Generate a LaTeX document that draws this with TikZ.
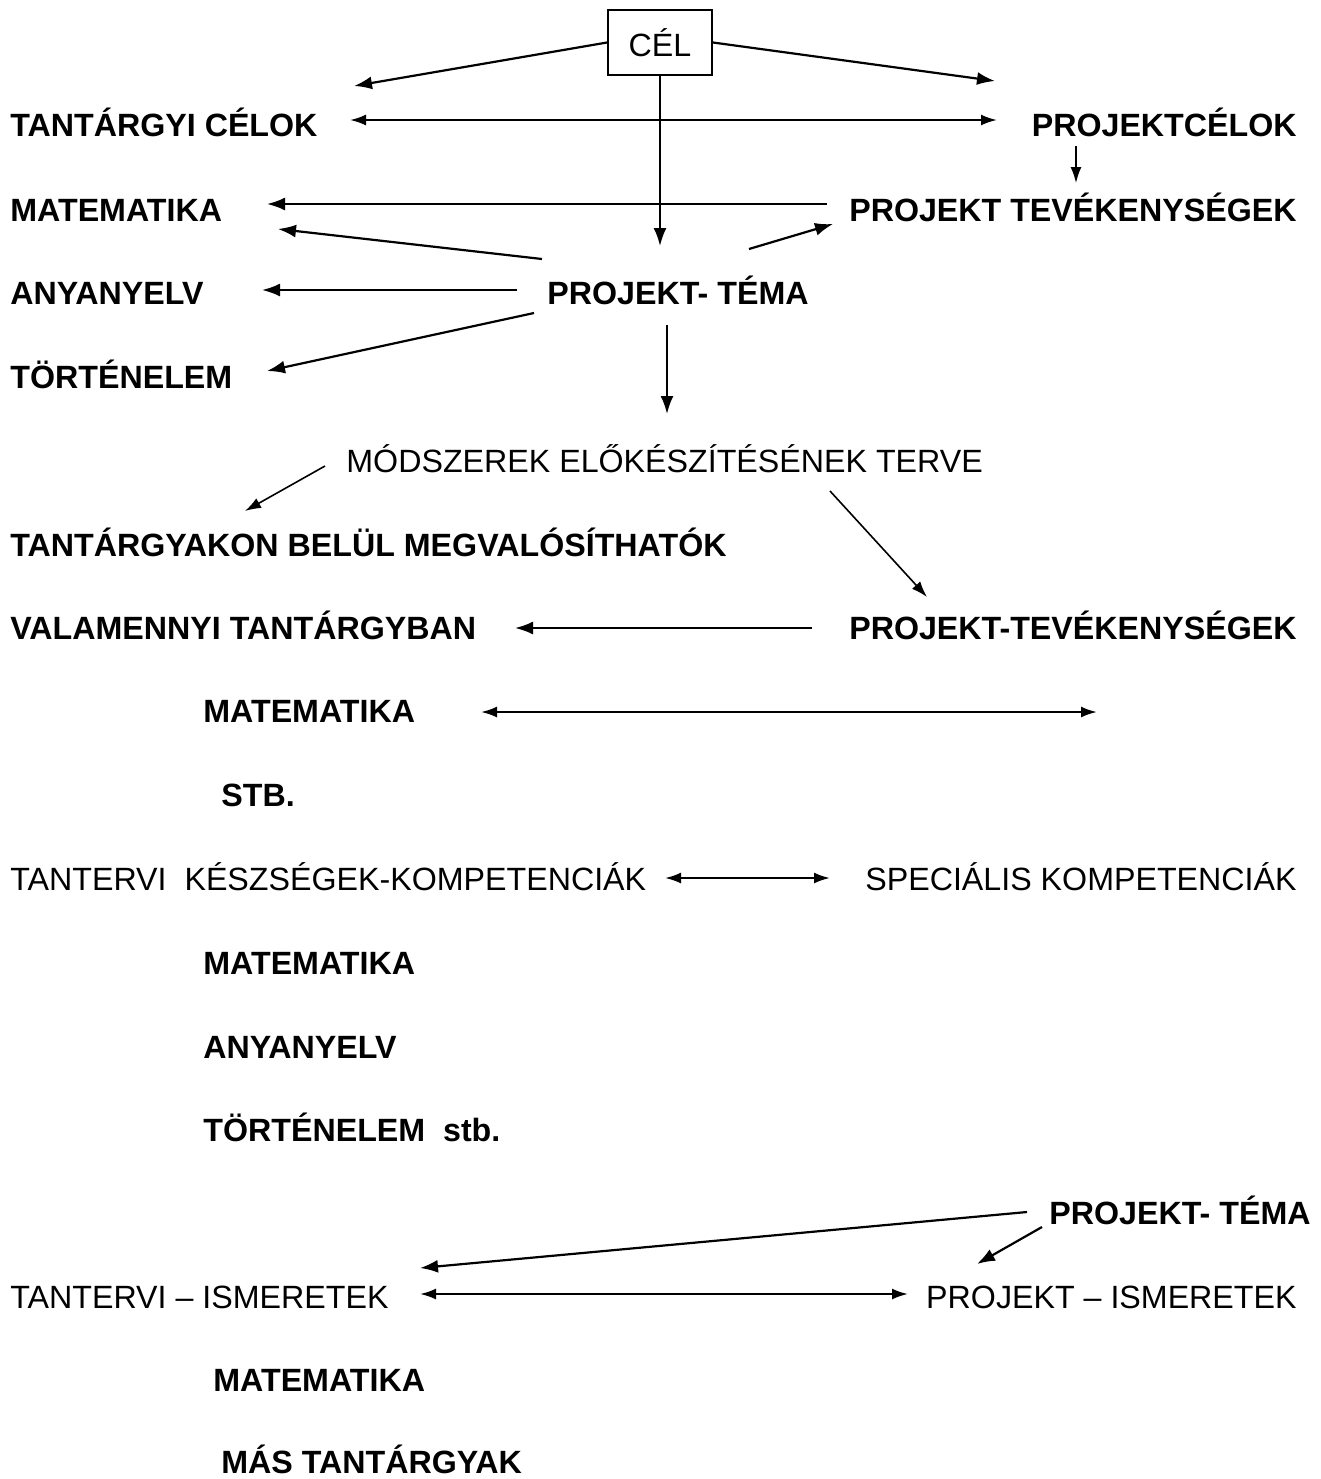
\documentclass[tikz,border=0pt]{standalone}
\usepackage{fontspec}
\setmainfont{Liberation Sans}
\usetikzlibrary{arrows.meta}
\tikzset{lab/.style={inner sep=0pt,font=\fontsize{16.1}{19}\selectfont\bfseries},txt/.style={inner sep=0pt,font=\fontsize{16.1}{19}\selectfont},celbox/.style={draw,line width=1pt,minimum width=52pt,minimum height=32.5pt,inner sep=0pt,font=\fontsize{16.1}{19}\selectfont}}
\tikzset{arr/.style={-{Latex[length=9pt,width=6.5pt]},line width=1.1pt},darr/.style={{Latex[length=8pt,width=5.5pt]}-{Latex[length=8pt,width=5.5pt]},line width=1.1pt},tarr/.style={-{Latex[length=8pt,width=5.5pt]},line width=.8pt}}

\begin{document}
\begin{tikzpicture}[x=0.5pt,y=-0.5pt]
\useasboundingbox (0,0) rectangle (1321,1479);
\node[celbox] (cel) at (660,42.5) {CÉL};
\node[lab,anchor=base west] (tcelok) at (10,136.5) {TANTÁRGYI CÉLOK};
\node[lab,anchor=base east] (pcelok) at (1297,136.5) {PROJEKTCÉLOK};
\node[lab,anchor=base west] (mat1) at (10,221.5) {MATEMATIKA};
\node[lab,anchor=base east] (ptev1) at (1297,221.5) {PROJEKT TEVÉKENYSÉGEK};
\node[lab,anchor=base west] (anya1) at (10,304.5) {ANYANYELV};
\node[lab,anchor=base west] (tema1) at (547,304.5) {PROJEKT- TÉMA};
\node[lab,anchor=base west] (tort1) at (10,388.5) {TÖRTÉNELEM};
\node[txt,anchor=base west] (modsz) at (346,472.5) {MÓDSZEREK ELŐKÉSZÍTÉSÉNEK TERVE};
\node[lab,anchor=base west] (tantb) at (10,556) {TANTÁRGYAKON BELÜL MEGVALÓSÍTHATÓK};
\node[lab,anchor=base west] (valam) at (10,639) {VALAMENNYI TANTÁRGYBAN};
\node[lab,anchor=base east] (ptev2) at (1297,639) {PROJEKT-TEVÉKENYSÉGEK};
\node[lab,anchor=base west] (mat2) at (203,722.5) {MATEMATIKA};
\node[lab,anchor=base west] (stb) at (221,806) {STB.};
\node[txt,anchor=base west] (tkesz) at (10,890.5) {TANTERVI\ \ KÉSZSÉGEK-KOMPETENCIÁK};
\node[txt,anchor=base east] (spec) at (1297,890.5) {SPECIÁLIS KOMPETENCIÁK};
\node[lab,anchor=base west] (mat3) at (203,974) {MATEMATIKA};
\node[lab,anchor=base west] (anya2) at (203,1058) {ANYANYELV};
\node[lab,anchor=base west] (tort2) at (203,1141) {TÖRTÉNELEM\ \ stb.};
\node[lab,anchor=base east] (tema2) at (1311,1224) {PROJEKT- TÉMA};
\node[txt,anchor=base west] (tism) at (10,1308) {TANTERVI – ISMERETEK};
\node[txt,anchor=base east] (pism) at (1297,1308) {PROJEKT – ISMERETEK};
\node[lab,anchor=base west] (mat4) at (213,1391.5) {MATEMATIKA};
\node[lab,anchor=base west] (mas) at (221,1473) {MÁS TANTÁRGYAK};
% arrow ends
\coordinate (tc1) at (354,86);
\coordinate (pc1) at (995,81);
\coordinate (tc2) at (350,120);
\coordinate (pc2) at (997,120);
\coordinate (pc3) at (1076,146);
\coordinate (pt1) at (1076,183);
\coordinate (tm1) at (660,246);
\coordinate (pt2) at (827,204);
\coordinate (m1) at (267,204);
\coordinate (tm2) at (542,259);
\coordinate (m2) at (278,229);
\coordinate (tm3) at (749,249);
\coordinate (pt3) at (833,224);
\coordinate (tm4) at (517,290);
\coordinate (a1) at (262,290);
\coordinate (tm5) at (534,313);
\coordinate (t1) at (267,371);
\coordinate (tm6) at (667,325);
\coordinate (md1) at (667,414);
\coordinate (md2) at (325,466);
\coordinate (tb1) at (245,511);
\coordinate (md3) at (830,491);
\coordinate (pt4) at (927,597);
\coordinate (pt5) at (812,628);
\coordinate (v1) at (515,628);
\coordinate (m3) at (481,712);
\coordinate (m4) at (1097,712);
\coordinate (k1) at (665,878);
\coordinate (k2) at (830,878);
\coordinate (tm7) at (1027,1212);
\coordinate (ti1) at (420,1268);
\coordinate (tm8) at (1042,1227);
\coordinate (pi1) at (977,1264);
\coordinate (ti2) at (420,1294);
\coordinate (pi2) at (908,1294);
\draw (cel.west) edge[arr] (tc1) (cel.east) edge[arr] (pc1) (cel.south) edge[arr] (tm1);
\draw (tc2) edge[darr] (pc2);
\draw (pc3) edge[tarr] (pt1);
\draw (pt2) edge[arr] (m1) (tm2) edge[arr] (m2) (tm3) edge[arr] (pt3)
(tm4) edge[arr] (a1) (tm5) edge[arr] (t1) (tm6) edge[arr] (md1);
\draw (md2) edge[tarr] (tb1) (md3) edge[tarr] (pt4);
\draw (pt5) edge[arr] (v1);
\draw (m3) edge[darr] (m4) (k1) edge[darr] (k2);
\draw (tm7) edge[arr] (ti1) (tm8) edge[arr] (pi1);
\draw (ti2) edge[darr] (pi2);
\end{tikzpicture}
\end{document}
